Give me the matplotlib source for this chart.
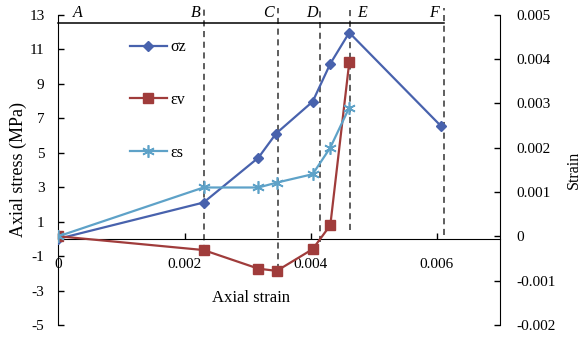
import numpy as np
import matplotlib.pyplot as plt

plt.rcParams['font.family'] = ['Liberation Serif', 'DejaVu Serif']
plt.rcParams['axes.unicode_minus'] = False

# axial strain at each load step
strain_sz = [0, 0.00230, 0.00317, 0.00345, 0.00403, 0.00431, 0.00461, 0.00606]
stress_sz = [0, 2.1, 4.7, 6.1, 7.95, 10.15, 11.95, 6.55]

strain_ev = [0, 0.00230, 0.00317, 0.00346, 0.00403, 0.00431, 0.00461]
val_ev = [0, -0.00031, -0.00073, -0.00078, -0.00029, 0.00025, 0.00392]

strain_es = [0, 0.00230, 0.00317, 0.00346, 0.00403, 0.00431, 0.00461]
val_es = [0, 0.0011, 0.0011, 0.00121, 0.0014, 0.0020, 0.0029]

# stage boundaries A-F
stage_x = [0.00231, 0.00348, 0.00415, 0.00463, 0.00611]
stage_bottom = [-0.7, -1.8, -0.2, 0.5, 0.2]
label_x = [0.00031, 0.00218, 0.00333, 0.00402, 0.00482, 0.00596]
label_names = ['A', 'B', 'C', 'D', 'E', 'F']

c_sz = '#4862ad'
c_ev = '#a03c3b'
c_es = '#5ea2c8'

fig = plt.figure(figsize=(5.83, 3.42), dpi=100)
ax = fig.add_axes([0.1003, 0.0497, 0.7573, 0.9079])
ax2 = ax.twinx()

# dashed stage lines and top bar
for x, yb in zip(stage_x, stage_bottom):
    ax.plot([x, x], [yb, 13.35], ls=(0, (4, 3)), color='#333333', lw=1.1, clip_on=False, zorder=1)
ax.plot([0, stage_x[-1]], [12.5, 12.5], color='black', lw=1.1, clip_on=False, zorder=1)
for x, n in zip(label_x, label_names):
    ax.text(x, 13.1, n, style='italic', fontsize=11.5, ha='center', va='center')

l1, = ax.plot(strain_sz, stress_sz, color=c_sz, lw=1.6, marker='D', ms=5.5, label='σz', zorder=3)
l2, = ax2.plot(strain_ev, val_ev, color=c_ev, lw=1.6, marker='s', ms=7, label='εv', zorder=3)
l3, = ax2.plot(strain_es, val_es, color=c_es, lw=1.6, marker=(6, 2, 0), ms=9, mew=1.2, label='εs', zorder=3)

ax.set_xlim(0, 0.007)
ax.set_ylim(-5, 13)
ax2.set_ylim(-0.002, 0.005)
ax.set_yticks(np.arange(-5, 14, 2))
ax.set_xticks([0, 0.002, 0.004, 0.006])
ax.set_xticklabels(['0', '0.002', '0.004', '0.006'])
ax2.set_yticks(np.arange(-0.002, 0.0051, 0.001))
ax2.set_yticklabels(['-0.002', '-0.001', '0', '0.001', '0.002', '0.003', '0.004', '0.005'])

for a in (ax, ax2):
    a.spines['top'].set_visible(False)
ax.spines['right'].set_visible(False)
ax2.spines['left'].set_visible(False)
ax2.spines['bottom'].set_visible(False)
ax.spines['bottom'].set_position(('data', 0))
ax.tick_params(axis='both', direction='in', labelsize=11, length=4, width=1)
ax.tick_params(axis='y', pad=10)
ax.tick_params(axis='x', pad=14)
ax2.tick_params(axis='y', direction='in', labelsize=11, length=4, width=1, pad=12)

ax.set_ylabel('Axial stress (MPa)', fontsize=13, labelpad=2)
ax2.set_ylabel('Strain', fontsize=11.5, labelpad=7)
ax.text(0.00306, -3.45, 'Axial strain', fontsize=12, ha='center', va='center')

ax2.legend(handles=[l1, l2, l3], loc='center left', bbox_to_anchor=(130 / 583, 1 - 100 / 342),
           bbox_transform=fig.transFigure, frameon=False, fontsize=11.5, labelspacing=2.3,
           handlelength=2.3, handletextpad=0.2, borderpad=0, borderaxespad=0)

fig.savefig('out.png', dpi=100)
